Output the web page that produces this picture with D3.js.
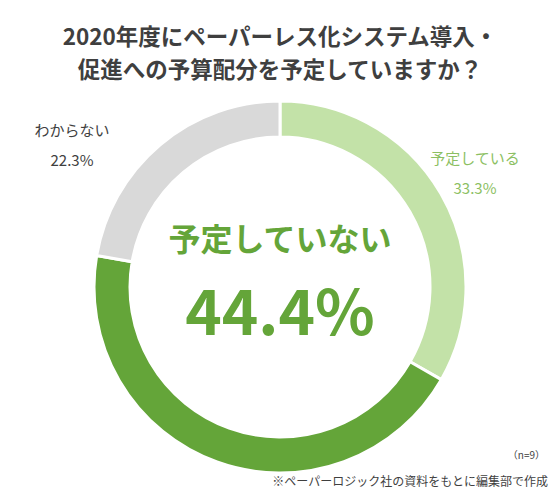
<!DOCTYPE html>
<html><head><meta charset="utf-8">
<script src="https://cdn.jsdelivr.net/npm/d3@7"></script>
<style>body{margin:0;background:#fff;font-family:"Noto Sans CJK JP","Noto Sans",sans-serif;}</style>
</head><body><div id="chart"></div>
<script>
var categories = ["予定している", "予定していない", "わからない"];
var values = [33.3, 44.4, 22.3];
var colors = ["#c3e2a8", "#64a539", "#d9d9d9"];
var titleLines = ["2020年度にペーパーレス化システム導入・", "促進への予算配分を予定していますか？"];

var W = 560, H = 501, cx = 280, cy = 287, rOut = 186, rIn = 150;
var svg = d3.select("#chart").append("svg").attr("width", W).attr("height", H);

svg.selectAll("text.title").data(titleLines).enter().append("text")
	.attr("x", W / 2).attr("y", function(d, i) { return 45 + i * 33; })
	.attr("text-anchor", "middle").attr("font-size", 22.5).attr("font-weight", "bold")
	.attr("fill", "#3f3f3f").text(function(d) { return d; });

var pie = d3.pie().sort(null).value(function(d) { return d; });
var arc = d3.arc().innerRadius(rIn).outerRadius(rOut);
var g = svg.append("g").attr("transform", "translate(" + cx + "," + cy + ")");
g.selectAll("path").data(pie(values)).enter().append("path")
	.attr("d", arc).attr("fill", function(d, i) { return colors[i]; })
	.attr("stroke", "#fff").attr("stroke-width", 3);

// center
g.append("text").attr("y", -36).attr("text-anchor", "middle").attr("font-size", 32)
	.attr("font-weight", "bold").attr("fill", "#64a539").text(categories[1]);
g.append("text").attr("y", 48).attr("text-anchor", "middle").attr("font-size", 62)
	.attr("font-weight", "bold").attr("fill", "#64a539").text(values[1] + "%");

// outside labels
var labels = [
	{i: 0, x: 475, y: 164, c: "#8cbf63"},
	{i: 2, x: 72, y: 136, c: "#3f3f3f"}
];
labels.forEach(function(l) {
	svg.append("text").attr("x", l.x).attr("y", l.y).attr("text-anchor", "middle")
		.attr("font-size", 15).attr("fill", l.c).text(categories[l.i]);
	svg.append("text").attr("x", l.x).attr("y", l.y + 30).attr("text-anchor", "middle")
		.attr("font-size", 15).attr("fill", l.c).text(values[l.i] + "%");
});

svg.append("text").attr("x", 545).attr("y", 459).attr("text-anchor", "end")
	.attr("font-size", 10).attr("fill", "#3f3f3f").text("（n=9）");
svg.append("text").attr("x", 548).attr("y", 486).attr("text-anchor", "end")
	.attr("font-size", 12).attr("fill", "#3f3f3f").text("※ペーパーロジック社の資料をもとに編集部で作成");
</script></body></html>
